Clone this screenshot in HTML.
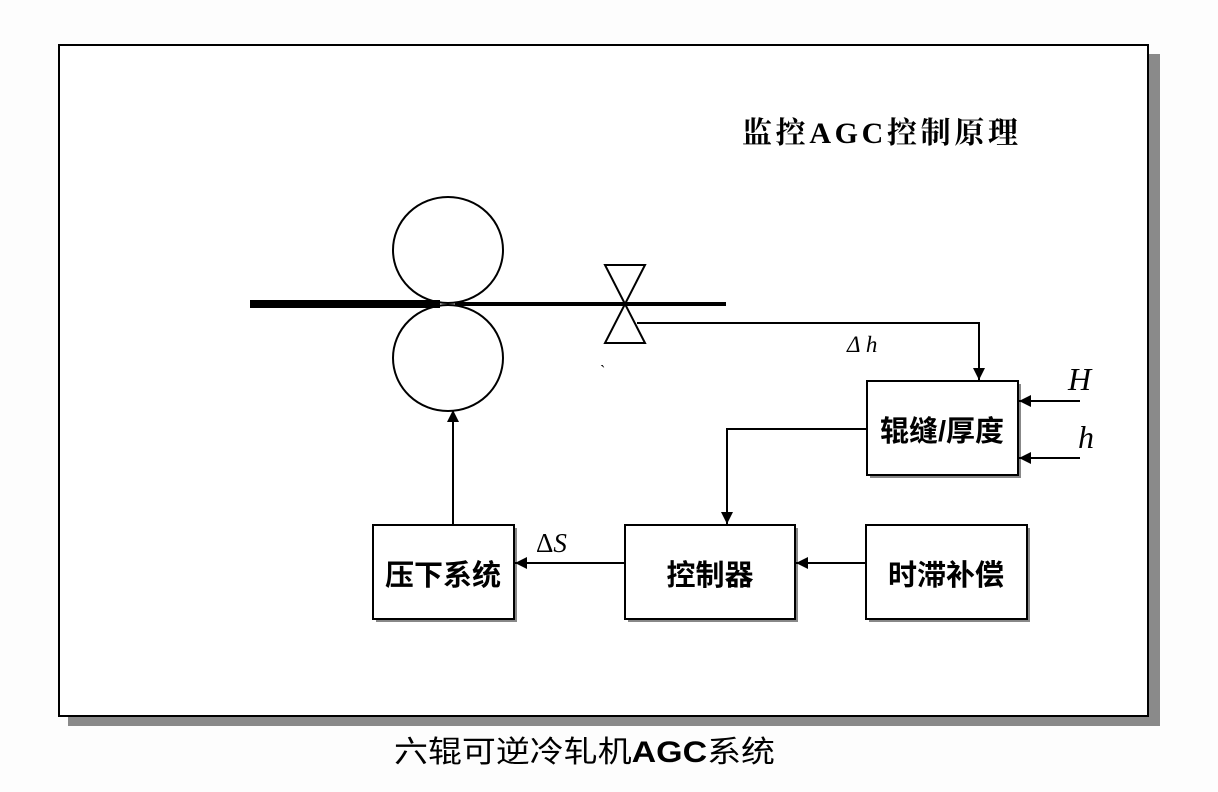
<!DOCTYPE html>
<html><head><meta charset="utf-8"><style>
html,body{margin:0;padding:0;background:#fdfdfd;}
svg{display:block}
</style></head><body>
<svg width="1218" height="792" viewBox="0 0 1218 792" xmlns="http://www.w3.org/2000/svg">
<defs>
<marker id="a" viewBox="0 0 10 10" refX="10" refY="5" markerWidth="12" markerHeight="12" markerUnits="userSpaceOnUse" orient="auto"><path d="M0,0 L10,5 L0,10 z" fill="#000"/></marker>
</defs>
<rect width="1218" height="792" fill="#fdfdfd"/>
<rect x="1148" y="54" width="12" height="672" fill="#8a8a8a"/>
<rect x="68" y="716" width="1092" height="10" fill="#8a8a8a"/>
<rect x="59" y="45" width="1089" height="671" fill="#fff" stroke="#000" stroke-width="2"/>
<text x="742" y="143" font-family="'Liberation Serif','Noto Serif CJK SC',serif" font-weight="bold" font-size="30" textLength="276">监控AGC控制原理</text>
<ellipse cx="448" cy="250" rx="55" ry="53" fill="none" stroke="#000" stroke-width="2"/>
<ellipse cx="448" cy="358" rx="55" ry="53" fill="none" stroke="#000" stroke-width="2"/>
<rect x="250" y="300" width="190" height="8" fill="#000"/>
<line x1="455" y1="304" x2="726" y2="304" stroke="#000" stroke-width="4"/>
<path d="M605,265 L645,265 L605,343 L645,343 Z" fill="none" stroke="#000" stroke-width="2"/>
<polyline points="637,323 979,323 979,380" fill="none" stroke="#000" stroke-width="2" marker-end="url(#a)"/>
<text x="847" y="352" font-family="'Liberation Serif',serif" font-style="italic" font-size="23">Δ h</text>
<text x="600" y="376" font-family="'Liberation Serif',serif" font-size="16">`</text>
<g fill="#888">
<rect x="870" y="384" width="151" height="94"/>
<rect x="628" y="528" width="170" height="94"/>
<rect x="376" y="528" width="141" height="94"/>
<rect x="869" y="528" width="161" height="94"/>
</g>
<g fill="#fff" stroke="#000" stroke-width="2">
<rect x="867" y="381" width="151" height="94"/>
<rect x="625" y="525" width="170" height="94"/>
<rect x="373" y="525" width="141" height="94"/>
<rect x="866" y="525" width="161" height="94"/>
</g>
<g font-family="'Liberation Sans','Noto Sans CJK SC',sans-serif" font-weight="bold" font-size="29" text-anchor="middle">
<text x="942" y="441">辊缝/厚度</text>
<text x="710" y="585">控制器</text>
<text x="443" y="585">压下系统</text>
<text x="946" y="585">时滞补偿</text>
</g>
<line x1="1080" y1="401" x2="1019" y2="401" stroke="#000" stroke-width="2" marker-end="url(#a)"/>
<line x1="1080" y1="458" x2="1019" y2="458" stroke="#000" stroke-width="2" marker-end="url(#a)"/>
<text x="1068" y="390" font-family="'Liberation Serif',serif" font-style="italic" font-size="32">H</text>
<text x="1078" y="448" font-family="'Liberation Serif',serif" font-style="italic" font-size="32">h</text>
<polyline points="867,429 727,429 727,524" fill="none" stroke="#000" stroke-width="2" marker-end="url(#a)"/>
<line x1="866" y1="563" x2="796" y2="563" stroke="#000" stroke-width="2" marker-end="url(#a)"/>
<line x1="625" y1="563" x2="515" y2="563" stroke="#000" stroke-width="2" marker-end="url(#a)"/>
<text x="536" y="552" font-family="'Liberation Serif',serif" font-size="27"><tspan>Δ</tspan><tspan font-style="italic">S</tspan></text>
<line x1="453" y1="525" x2="453" y2="410" stroke="#000" stroke-width="2" marker-end="url(#a)"/>
<text x="394" y="762" font-family="'Liberation Sans','Noto Sans CJK SC',sans-serif" font-size="30" textLength="381" lengthAdjust="spacingAndGlyphs">六辊可逆冷轧机<tspan font-weight="bold">AGC</tspan>系统</text>
</svg>
</body></html>
